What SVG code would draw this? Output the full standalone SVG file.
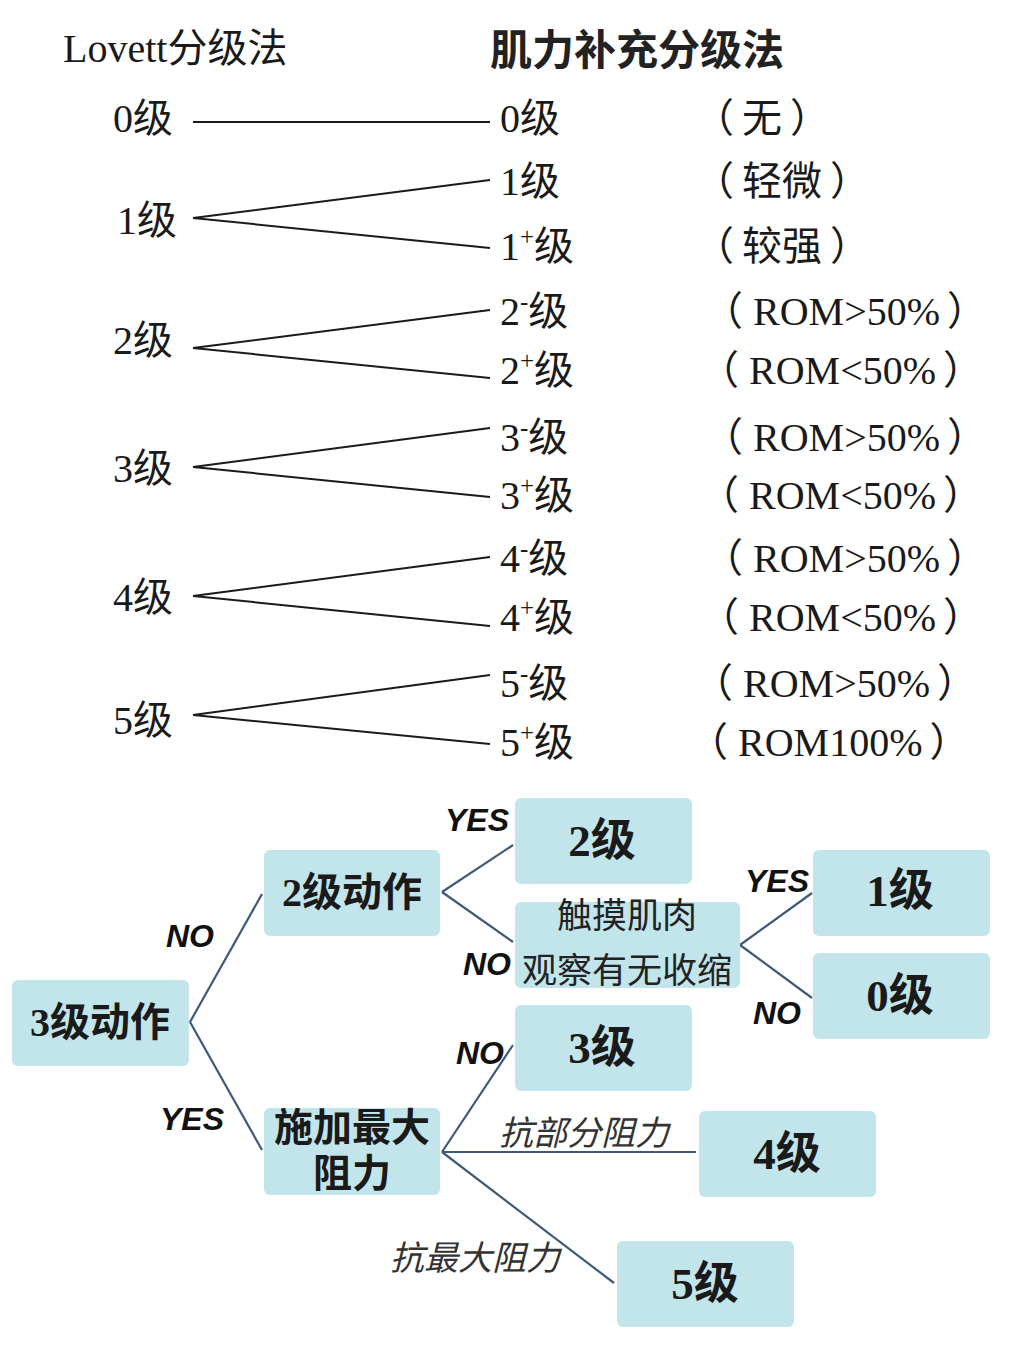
<svg xmlns="http://www.w3.org/2000/svg" width="1024" height="1357" viewBox="0 0 1024 1357">
<style>
.ser{font-family:"Liberation Serif","Noto Sans CJK SC",serif;fill:#1a1a1a;font-size:40px}
.cjk{font-family:"Noto Sans CJK SC",sans-serif;fill:#222}
.ln{stroke:#1a1a1a;stroke-width:2;fill:none}
.box{fill:#c2e5eb}
.bt{font-family:"Liberation Serif","Noto Sans CJK SC",serif;fill:#1a1a1a;text-anchor:middle;font-weight:bold}
.ct{stroke:#3d5b78;stroke-width:2.2;fill:none}
.yn{font-family:"Liberation Sans",Arial,sans-serif;font-weight:bold;font-style:italic;font-size:32px;fill:#111;text-anchor:middle}
.it{font-family:"Noto Sans CJK SC",sans-serif;font-style:italic;font-size:34px;fill:#333;text-anchor:middle}
.sup{font-size:25px}
</style>
<rect width="1024" height="1357" fill="#ffffff"/>

<g id="headers">
<text class="ser" x="63" y="62" font-size="42">Lovett分级法</text>
<text class="cjk" x="490" y="65" font-size="42" font-weight="bold">肌力补充分级法</text>
</g>

<g id="lovett">
<text class="ser" x="113" y="132">0级</text>
<text class="ser" x="117" y="234">1级</text>
<text class="ser" x="113" y="354">2级</text>
<text class="ser" x="113" y="482">3级</text>
<text class="ser" x="113" y="611">4级</text>
<text class="ser" x="113" y="734">5级</text>
</g>

<g id="supplement">
<text class="ser" x="500" y="132">0级</text>
<text class="ser" x="500" y="195">1级</text>
<text class="ser" x="500" y="260">1<tspan class="sup" dy="-15">+</tspan><tspan dy="15">级</tspan></text>
<text class="ser" x="500" y="325">2<tspan class="sup" dy="-15">-</tspan><tspan dy="15">级</tspan></text>
<text class="ser" x="500" y="384">2<tspan class="sup" dy="-15">+</tspan><tspan dy="15">级</tspan></text>
<text class="ser" x="500" y="451">3<tspan class="sup" dy="-15">-</tspan><tspan dy="15">级</tspan></text>
<text class="ser" x="500" y="509">3<tspan class="sup" dy="-15">+</tspan><tspan dy="15">级</tspan></text>
<text class="ser" x="500" y="572">4<tspan class="sup" dy="-15">-</tspan><tspan dy="15">级</tspan></text>
<text class="ser" x="500" y="631">4<tspan class="sup" dy="-15">+</tspan><tspan dy="15">级</tspan></text>
<text class="ser" x="500" y="697">5<tspan class="sup" dy="-15">-</tspan><tspan dy="15">级</tspan></text>
<text class="ser" x="500" y="756">5<tspan class="sup" dy="-15">+</tspan><tspan dy="15">级</tspan></text>
</g>

<g id="descriptions">
<text class="ser" x="694" y="132">（<tspan dx="8">无</tspan><tspan dx="8">）</tspan></text>
<text class="ser" x="694" y="195">（<tspan dx="8">轻微</tspan><tspan dx="8">）</tspan></text>
<text class="ser" x="694" y="260">（<tspan dx="8">较强</tspan><tspan dx="8">）</tspan></text>
<text class="ser" x="703" y="325">（<tspan dx="10">ROM&gt;50%</tspan><tspan dx="7">）</tspan></text>
<text class="ser" x="699" y="384">（<tspan dx="10">ROM&lt;50%</tspan><tspan dx="7">）</tspan></text>
<text class="ser" x="703" y="451">（<tspan dx="10">ROM&gt;50%</tspan><tspan dx="7">）</tspan></text>
<text class="ser" x="699" y="509">（<tspan dx="10">ROM&lt;50%</tspan><tspan dx="7">）</tspan></text>
<text class="ser" x="703" y="572">（<tspan dx="10">ROM&gt;50%</tspan><tspan dx="7">）</tspan></text>
<text class="ser" x="699" y="631">（<tspan dx="10">ROM&lt;50%</tspan><tspan dx="7">）</tspan></text>
<text class="ser" x="693" y="697">（<tspan dx="10">ROM&gt;50%</tspan><tspan dx="7">）</tspan></text>
<text class="ser" x="688" y="756">（<tspan dx="10">ROM100%</tspan><tspan dx="7">）</tspan></text>
</g>

<g id="grade-lines">
<path class="ln" d="M193 122 H490"/>
<path class="ln" d="M193 218 L490 180 M193 218 L490 248"/>
<path class="ln" d="M193 348 L490 310 M193 348 L490 378"/>
<path class="ln" d="M193 467 L490 428 M193 467 L490 497"/>
<path class="ln" d="M193 596 L490 557 M193 596 L490 626"/>
<path class="ln" d="M193 715 L490 675 M193 715 L490 744"/>
</g>

<g id="connectors">
<path class="ct" d="M190 1022 L262 894"/>
<path class="ct" d="M190 1022 L262 1150"/>
<path class="ct" d="M442 892 L513 845"/>
<path class="ct" d="M442 892 L513 942"/>
<path class="ct" d="M740 945 L812 893"/>
<path class="ct" d="M740 945 L812 998"/>
<path class="ct" d="M442 1152 L513 1045"/>
<path class="ct" d="M442 1152 L696 1152"/>
<path class="ct" d="M442 1152 L614 1283"/>
</g>

<g id="edge-labels">
<text class="yn" x="477" y="831">YES</text>
<text class="yn" x="190" y="947">NO</text>
<text class="yn" x="487" y="975">NO</text>
<text class="yn" x="777" y="892">YES</text>
<text class="yn" x="777" y="1024">NO</text>
<text class="yn" x="480" y="1064">NO</text>
<text class="yn" x="192" y="1130">YES</text>
<text class="it" x="584" y="1145">抗部分阻力</text>
<text class="it" x="475" y="1270">抗最大阻力</text>
</g>

<g id="n-3ji-dongzuo">
<rect class="box" x="12" y="980" width="177" height="86" rx="6"/>
<text class="bt" x="100" y="1036" font-size="40">3级动作</text>
</g>
<g id="n-2ji-dongzuo">
<rect class="box" x="264" y="850" width="176" height="86" rx="6"/>
<text class="bt" x="352" y="906" font-size="40">2级动作</text>
</g>
<g id="n-2ji">
<rect class="box" x="515" y="798" width="177" height="86" rx="6"/>
<text class="bt" x="602" y="856" font-size="45">2级</text>
</g>
<g id="n-chumo">
<rect class="box" x="515" y="902" width="225" height="86" rx="6"/>
<text class="cjk" x="627" y="928" font-size="35" text-anchor="middle">触摸肌肉</text>
<text class="cjk" x="627" y="983" font-size="35" text-anchor="middle">观察有无收缩</text>
</g>
<g id="n-1ji">
<rect class="box" x="813" y="850" width="177" height="86" rx="6"/>
<text class="bt" x="900" y="906" font-size="45">1级</text>
</g>
<g id="n-0ji">
<rect class="box" x="813" y="953" width="177" height="86" rx="6"/>
<text class="bt" x="900" y="1011" font-size="45">0级</text>
</g>
<g id="n-3ji">
<rect class="box" x="515" y="1005" width="177" height="86" rx="6"/>
<text class="bt" x="602" y="1063" font-size="45">3级</text>
</g>
<g id="n-shijia">
<rect class="box" x="264" y="1108" width="176" height="87" rx="6"/>
<text class="bt" x="352" y="1141" font-size="39">施加最大</text>
<text class="bt" x="352" y="1187" font-size="39">阻力</text>
</g>
<g id="n-4ji">
<rect class="box" x="699" y="1111" width="177" height="86" rx="6"/>
<text class="bt" x="787" y="1169" font-size="45">4级</text>
</g>
<g id="n-5ji">
<rect class="box" x="617" y="1241" width="177" height="86" rx="6"/>
<text class="bt" x="705" y="1299" font-size="45">5级</text>
</g>
</svg>
